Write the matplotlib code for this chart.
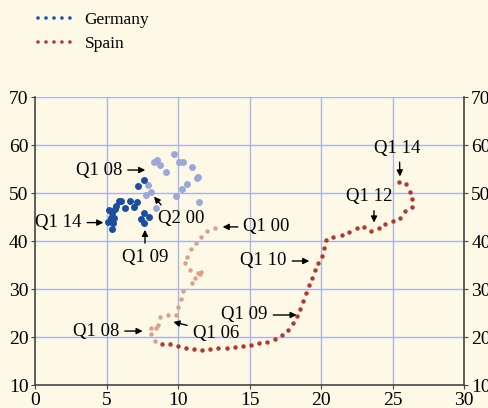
import matplotlib
matplotlib.use("Agg")
import matplotlib.pyplot as plt
from matplotlib.lines import Line2D

plt.rcParams['font.family'] = ['Liberation Serif', 'DejaVu Serif']
plt.rcParams['font.size'] = 13.5

# Germany (x, y)
ger_early_x = [8.28, 8.53, 8.74, 9.14, 9.67, 10.05, 10.33, 10.98, 11.38, 11.33,
               10.63, 10.28, 9.86, 11.42, 8.46, 7.90, 8.07, 7.72]
ger_early_y = [56.6, 56.9, 56.0, 54.5, 58.2, 56.5, 56.5, 55.4, 53.5, 53.2,
               52.0, 51.0, 49.4, 48.1, 47.0, 51.7, 50.3, 49.6]
ger_late_x = [7.60, 7.16, 6.64, 7.11, 6.88, 6.27, 5.85, 6.01, 5.62, 5.57,
              5.15, 5.36, 5.31, 5.52, 5.10, 5.41, 5.38, 7.41, 7.60, 7.62, 7.93]
ger_late_y = [52.8, 51.5, 48.5, 48.1, 47.1, 46.9, 48.3, 48.4, 47.4, 46.8,
              46.5, 45.8, 44.9, 44.9, 44.0, 43.75, 42.5, 44.6, 43.75, 45.8, 45.1]

# Spain (x, y)
spa_early_x = [12.57, 12.03, 11.59, 11.22, 10.89, 10.63, 10.49, 10.82, 11.36, 11.57,
               11.50, 11.19, 10.96, 10.35, 10.19, 10.00, 9.82, 9.28, 8.72, 8.60,
               8.42, 8.09, 8.09, 8.40]
spa_early_y = [42.8, 42.15, 40.96, 39.7, 38.3, 36.8, 35.4, 34.0, 33.5, 33.6,
               33.1, 32.4, 31.4, 29.65, 27.9, 26.3, 24.6, 24.6, 24.3, 22.6,
               21.9, 21.85, 20.6, 19.2]
spa_late_x = [8.84, 9.40, 9.96, 10.52, 11.08, 11.64, 12.22, 12.80, 13.38, 13.97,
              14.50, 15.06, 15.64, 16.18, 16.74, 17.23, 17.69, 18.02, 18.30, 18.51,
              18.74, 18.95, 19.16, 19.37, 19.54, 19.79, 20.07, 20.21, 20.33, 20.84,
              21.43, 21.96, 22.48, 22.99, 23.50, 24.01, 24.48, 24.99, 25.50, 25.85,
              26.32, 26.36, 26.20, 25.90, 25.43]
spa_late_y = [18.6, 18.54, 18.1, 17.7, 17.5, 17.35, 17.5, 17.7, 17.8, 18.0,
              18.25, 18.5, 18.75, 19.0, 19.6, 20.5, 21.5, 22.9, 24.5, 26.0,
              27.6, 29.3, 30.8, 32.35, 34.0, 35.4, 36.9, 38.7, 40.3, 41.0,
              41.3, 41.9, 42.7, 43.0, 42.2, 42.7, 43.6, 44.3, 44.9, 46.4,
              47.1, 48.75, 50.3, 51.9, 52.35]

# label, arrow tip, text position, alignment, arrow start on text
notes = [
    ("Q1 08", (7.69, 54.85), (6.08, 54.85), 'right', (0.5, 0.5)),
    ("Q1 14", (4.76, 43.9), (3.24, 43.9), 'right', (0.5, 0.5)),
    ("Q2 00", (8.3, 49.3), (8.6, 44.8), 'left', (0.15, 1.0)),
    ("Q1 09", (7.67, 42.4), (7.67, 36.7), 'center', (0.5, 0.5)),
    ("Q1 00", (13.1, 43.0), (14.55, 43.0), 'left', (0.5, 0.5)),
    ("Q1 10", (19.16, 35.9), (17.58, 35.9), 'right', (0.5, 0.5)),
    ("Q1 09", (18.28, 24.65), (16.25, 24.65), 'right', (0.5, 0.5)),
    ("Q1 06", (9.65, 23.2), (11.0, 20.8), 'left', (0.0, 0.9)),
    ("Q1 08", (7.51, 21.3), (5.87, 21.3), 'right', (0.5, 0.5)),
    ("Q1 12", (23.69, 43.9), (23.36, 49.3), 'center', (0.6, 0.0)),
    ("Q1 14", (25.5, 53.5), (25.3, 59.4), 'center', (0.55, 0.0)),
]

bg = '#fef9e6'
grid_c = '#aab5e6'
ger_dark, ger_light = '#1a4ea0', '#9aa8dc'
spa_dark, spa_light = '#b0392f', '#dba08c'

fig = plt.figure(figsize=(4.89, 4.08), dpi=100, facecolor=bg)
ax = fig.add_axes([0.0722, 0.0556, 0.8773, 0.7059], facecolor=bg)

ax.plot(ger_early_x, ger_early_y, 'o', color=ger_light, ms=5, mec='none')
ax.plot(ger_late_x, ger_late_y, 'o', color=ger_dark, ms=5, mec='none')
ax.plot(spa_early_x, spa_early_y, 'o', color=spa_light, ms=3.2, mec='none')
ax.plot(spa_late_x, spa_late_y, 'o', color=spa_dark, ms=3.2, mec='none')

for label, tip, pos, ha, rel in notes:
    ax.annotate(label, xy=tip, xytext=pos, ha=ha, va='center', fontsize=13.5,
                arrowprops=dict(arrowstyle='-|>', color='black', lw=1,
                                mutation_scale=9, shrinkB=0, relpos=rel))

ax.set_xlim(0, 30)
ax.set_ylim(10, 70)
ax.set_xticks(range(0, 31, 5))
ax.set_yticks(range(10, 71, 10))
for x in range(5, 30, 5):
    ax.axvline(x, color=grid_c, lw=1, zorder=0)
for y in range(20, 71, 10):
    ax.axhline(y, color=grid_c, lw=1, zorder=0)

ax.spines['top'].set_visible(False)
for s in ['left', 'right', 'bottom']:
    ax.spines[s].set_color('#444444')
    ax.spines[s].set_linewidth(1.2)
ax.tick_params(axis='both', direction='out', length=3, color='#444444',
               labelsize=14, pad=2)
ax.tick_params(axis='y', right=True, labelright=True)

handles = [
    Line2D([], [], color=ger_dark, lw=2.6, ls=(0, (0.01, 2.2)), dash_capstyle='round'),
    Line2D([], [], color=spa_dark, lw=2.6, ls=(0, (0.01, 2.2)), dash_capstyle='round'),
]
fig.legend(handles, ['Germany', 'Spain'], loc='upper left',
           bbox_to_anchor=(0.045, 1.01), frameon=False, fontsize=12.5,
           handlelength=1.95, handletextpad=0.75, labelspacing=0.45)

fig.savefig('out.png', dpi=100, facecolor=bg)
